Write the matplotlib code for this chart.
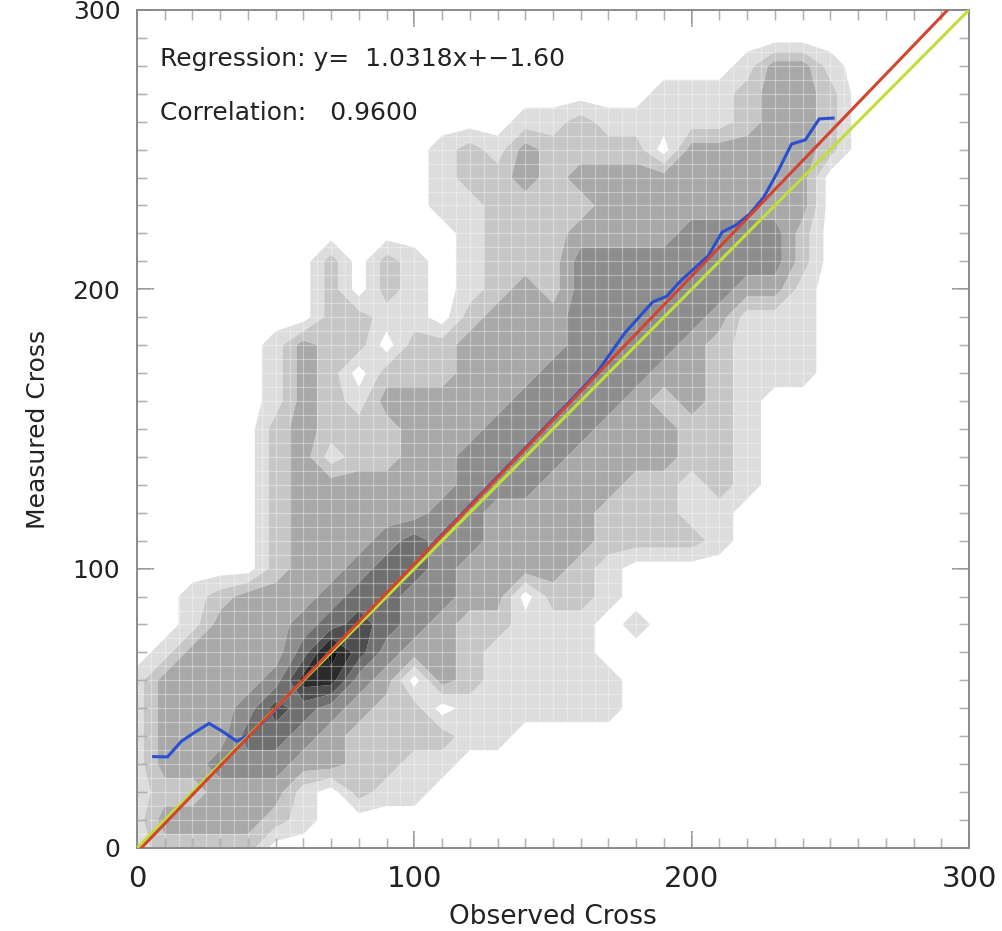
import numpy as np
import matplotlib
matplotlib.use("Agg")
import matplotlib.pyplot as plt
from matplotlib.ticker import MultipleLocator

# ---------------- data ----------------
# density class (0 = empty ... 8 = densest) on a 10-unit grid;
# row i corresponds to Measured = 10*i, column j to Observed = 10*j
grid_obs = np.arange(0, 301, 10)
grid_meas = np.arange(0, 301, 10)
density_rows = [
    "1222200000000000000000000000000",  # 0
    "1333321000000000000000000000000",  # 10
    "1223331021100000000000000000000",  # 20
    "1334443322110000000000000000000",  # 30
    "1333554322221100000000000000000",  # 40
    "1333465432201111110000000000000",  # 50
    "1333347743032111110000000000000",  # 60
    "0133335864332111100000000000000",  # 70
    "0013334565432211101000000000000",  # 80
    "0012333455443302210000000000000",  # 90
    "0000023345543333210000000000000",  # 100
    "0000023334544333322221000000000",  # 110
    "0000023333344333322211000000000",  # 120
    "0000023333334443332212100000000",  # 130
    "0000023122334444333322100000000",  # 140
    "0000023222333444433322100000000",  # 150
    "0000013213333344443232100000000",  # 160
    "0000013202223334444332111000000",  # 170
    "0000013220223333444432111000000",  # 180
    "0000000221102333444443111000000",  # 190
    "0000000202101232444444331000000",  # 200
    "0000000202101222444444442000000",  # 210
    "0000000000001222333344442000000",  # 220
    "0000000000011222233333333000000",  # 230
    "0000000000012232333333333000000",  # 240
    "0000000000012132222033333200000",  # 250
    "0000000000000011211111233200000",  # 260
    "0000000000000000000111233200000",  # 270
    "0000000000000000000000133100000",  # 280
    "0000000000000000000000000000000",  # 290
    "0000000000000000000000000000000",  # 300
]
density_levels = [0.5, 1.5, 2.5, 3.5, 4.5, 5.5, 6.5, 7.5, 8.5]
density_colors = ["#dddddd", "#c6c6c6", "#a8a8a8", "#8d8d8d",
                  "#6f6f6f", "#4e4e4e", "#2b2b2b", "#0e0e0e"]

# binned mean of measured vs observed
bin_obs = [6, 11, 16, 21, 26, 31, 36, 41, 46, 51, 56, 61, 66, 71, 76, 81, 86, 91,
           96, 101, 106, 111, 116, 121, 126, 131, 136, 141, 146, 151, 156, 161,
           166, 171, 176, 181, 186, 191, 196, 201, 206, 211, 216, 221, 226, 231,
           236, 241, 246, 251]
bin_meas = [32.7, 32.6, 38.2, 41.5, 44.6, 41.6, 38.2, 40.8, 45.6, 50.6, 55.9,
            61.0, 66.4, 71.5, 76.6, 81.6, 86.6, 91.5, 96.3, 101.3, 108.0, 113.2,
            118.3, 123.6, 128.7, 133.9, 139.0, 144.2, 149.4, 154.6, 159.8, 165.0,
            170.4, 177.5, 184.5, 190.0, 195.5, 197.5, 203.0, 207.5, 212.0, 220.5,
            223.0, 227.0, 233.0, 242.0, 252.0, 253.5, 261.0, 261.3]

slope = 1.0318
intercept = -1.60
correlation = 0.9600
axis_range = [0, 300]

# ---------------- figure ----------------
plt.rcParams["font.family"] = ["DejaVu Sans"]
fig = plt.figure(figsize=(10.03, 9.31), dpi=100)
ax = fig.add_axes([0.1366, 0.0892, 0.8295, 0.9001])

Z = np.array([[int(c) for c in row] for row in density_rows], dtype=float)
ax.contourf(grid_obs, grid_meas, Z, levels=density_levels,
            colors=density_colors, zorder=1, antialiased=True)

# faint white grid over the shading
gpos = np.arange(5, 300, 5)
ax.vlines(gpos, 0, 300, colors="white", linewidth=0.9, alpha=0.35, zorder=2)
ax.hlines(gpos, 0, 300, colors="white", linewidth=0.9, alpha=0.35, zorder=2)

# lines
ax.plot(bin_obs, bin_meas, color="#2a4fd0", lw=2.2, zorder=3)
ax.plot(axis_range, axis_range, color="#bfe03c", lw=2.2, zorder=4)
fit_x = np.array(axis_range, dtype=float)
ax.plot(fit_x, slope * fit_x + intercept, color="#d2452f", lw=2.2, zorder=5)

ax.set_xlim(axis_range)
ax.set_ylim(axis_range)

ax.text(8.3, 282.3, "Regression: y=  %.4fx+%s" % (slope, "\u2212%.2f" % abs(intercept)),
        fontsize=18, va="center", ha="left", color="#222222", zorder=6)
ax.text(8.3, 263.2, "Correlation:   %.4f" % correlation,
        fontsize=18, va="center", ha="left", color="#222222", zorder=6)

# axes styling
for s in ax.spines.values():
    s.set_color("#8a8a8a")
    s.set_linewidth(1.4)
ax.xaxis.set_major_locator(MultipleLocator(100))
ax.yaxis.set_major_locator(MultipleLocator(100))
ax.xaxis.set_minor_locator(MultipleLocator(10))
ax.yaxis.set_minor_locator(MultipleLocator(10))
ax.tick_params(which="both", direction="in", top=True, right=True,
               colors="#8a8a8a")
ax.tick_params(which="major", length=12, width=1.3)
ax.tick_params(which="minor", length=7, width=1.0)
ax.tick_params(axis="x", labelsize=21, pad=12, labelcolor="#222222")
ax.tick_params(axis="y", labelsize=18, pad=12, labelcolor="#222222")

ax.set_xlabel("Observed Cross", fontsize=19, color="#222222", labelpad=8)
ax.set_ylabel("Measured Cross", fontsize=18, color="#222222", labelpad=16)

fig.savefig("out.png", dpi=100)
